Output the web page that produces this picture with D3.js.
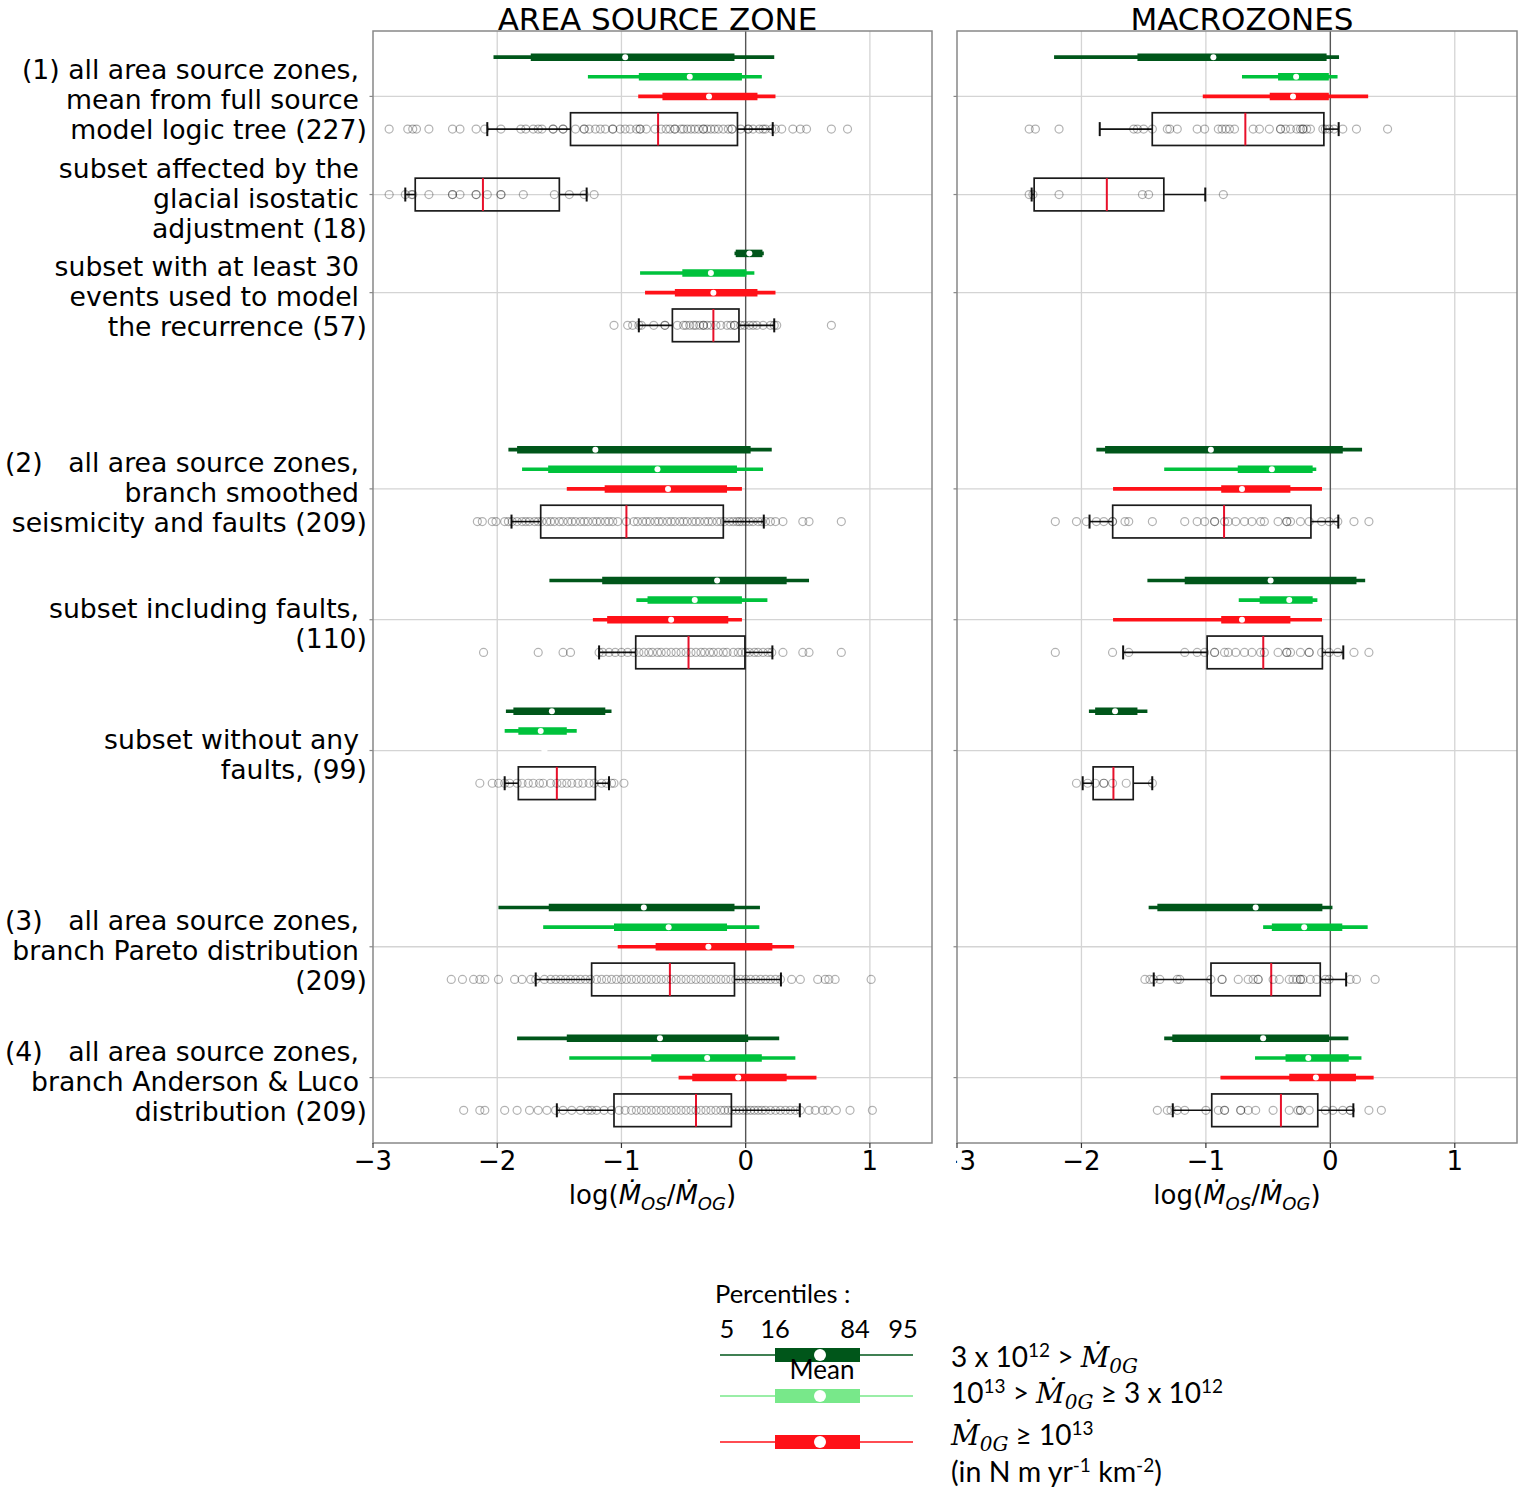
<!DOCTYPE html>
<html><head><meta charset="utf-8">
<script src="https://cdn.jsdelivr.net/npm/d3@7"></script>
<style>body{margin:0;background:#fff}svg{display:block}text{white-space:pre}</style>
</head><body><svg id="c" width="1519" height="1491"></svg>
<script>
// ---------------- DATA ----------------
const groupLabels = [
  ["(1) all area source zones,", "mean from full source", "model logic tree (227)"],
  ["subset affected by the", "glacial isostatic", "adjustment (18)"],
  ["subset with at least 30", "events used to model", "the recurrence (57)"],
  ["(2)   all area source zones,", "branch smoothed", "seismicity and faults (209)"],
  ["subset including faults,", "(110)"],
  ["subset without any", "faults, (99)"],
  ["(3)   all area source zones,", "branch Pareto distribution", "(209)"],
  ["(4)   all area source zones,", "branch Anderson & Luco", "distribution (209)"]
];
const panelTitles = ["AREA SOURCE ZONE", "MACROZONES"];
const xTicks = [-3, -2, -1, 0, 1];
const xTickLabels = ["\u22123", "\u22122", "\u22121", "0", "1"];

// percentile bars: [p5, p16, mean, p84, p95]
const aszDark = [
  [-2.03, -1.73, -0.97, -0.09, 0.23], null,
  [-0.09, -0.08, 0.03, 0.135, 0.146],
  [-1.91, -1.84, -1.21, 0.04, 0.21],
  [-1.58, -1.155, -0.23, 0.33, 0.51],
  [-1.93, -1.87, -1.56, -1.13, -1.08],
  [-1.99, -1.585, -0.82, -0.09, 0.115],
  [-1.84, -1.44, -0.69, 0.02, 0.27]
];
const aszLight = [
  [-1.27, -0.86, -0.45, -0.03, 0.13], null,
  [-0.85, -0.51, -0.28, 0.006, 0.07],
  [-1.80, -1.59, -0.71, -0.07, 0.14],
  [-0.88, -0.79, -0.41, -0.03, 0.175],
  [-1.94, -1.83, -1.65, -1.44, -1.36],
  [-1.63, -1.06, -0.62, -0.15, 0.11],
  [-1.42, -0.76, -0.31, 0.13, 0.40]
];
const aszRed = [
  [-0.865, -0.67, -0.295, 0.095, 0.24], null,
  [-0.81, -0.57, -0.26, 0.095, 0.24],
  [-1.44, -1.135, -0.625, -0.15, -0.03],
  [-1.23, -1.115, -0.60, -0.14, -0.03],
  [null, null, -1.62, null, null],
  [-1.03, -0.725, -0.30, 0.215, 0.39],
  [-0.54, -0.43, -0.06, 0.33, 0.57]
];
// box: [whisker low, q1, median, q3, whisker high]
const aszBox = [
  [-2.08, -1.41, -0.705, -0.066, 0.218],
  [-2.74, -2.66, -2.115, -1.50, -1.28],
  [-0.86, -0.59, -0.26, -0.054, 0.23],
  [-1.885, -1.65, -0.96, -0.18, 0.146],
  [-1.18, -0.885, -0.46, -0.006, 0.215],
  [-1.94, -1.83, -1.52, -1.21, -1.10],
  [-1.69, -1.24, -0.61, -0.09, 0.284],
  [-1.52, -1.06, -0.40, -0.115, 0.436]
];
const aszPts = [
  [-2.87,-2.72,-2.68,-2.65,-2.55,-2.36,-2.3,-2.17,-2.1,-1.97,-1.81,-1.77,-1.71,-1.67,-1.64,-1.55,-1.55,-1.47,-1.47,-1.37,-1.3,-1.3,-1.26,-1.21,-1.17,-1.13,-1.07,-1.07,-1.01,-0.97,-0.93,-0.88,-0.85,-0.85,-0.8,-0.73,-0.68,-0.64,-0.61,-0.57,-0.57,-0.52,-0.5,-0.47,-0.44,-0.41,-0.38,-0.34,-0.34,-0.31,-0.28,-0.25,-0.22,-0.18,-0.14,-0.11,-0.11,-0.04,0.02,0.02,0.06,0.11,0.14,0.16,0.21,0.24,0.29,0.38,0.44,0.49,0.69,0.82],
  [-2.87,-2.74,-2.69,-2.68,-2.55,-2.36,-2.36,-2.30,-2.17,-2.17,-2.08,-1.97,-1.97,-1.79,-1.54,-1.42,-1.30,-1.22],
  [-1.06,-0.95,-0.91,-0.86,-0.84,-0.74,-0.65,-0.65,-0.55,-0.5,-0.48,-0.45,-0.42,-0.40,-0.37,-0.34,-0.34,-0.31,-0.28,-0.24,-0.2,-0.15,-0.12,-0.09,-0.09,-0.04,-0.01,0.03,0.06,0.09,0.14,0.2,0.23,0.25,0.69],
  [-2.16,-2.12,-2.04,-2.01,-1.94,-1.91,-1.88,-1.84,-1.8,-1.77,-1.74,-1.7,-1.67,-1.64,-1.6,-1.57,-1.54,-1.5,-1.47,-1.43,-1.4,-1.37,-1.33,-1.3,-1.27,-1.23,-1.2,-1.17,-1.13,-1.1,-1.07,-1.03,-0.96,-0.9,-0.87,-0.83,-0.8,-0.77,-0.73,-0.7,-0.67,-0.63,-0.6,-0.57,-0.53,-0.5,-0.47,-0.43,-0.4,-0.37,-0.33,-0.3,-0.27,-0.23,-0.2,-0.17,-0.13,-0.1,-0.07,-0.05,-0.03,0.0,0.03,0.06,0.1,0.13,0.16,0.2,0.24,0.3,0.46,0.51,0.77],
  [-2.11,-1.67,-1.47,-1.41,-1.18,-1.15,-1.1,-1.05,-1.0,-0.95,-0.9,-0.86,-0.82,-0.78,-0.75,-0.71,-0.68,-0.64,-0.6,-0.56,-0.52,-0.48,-0.44,-0.4,-0.36,-0.33,-0.29,-0.26,-0.22,-0.18,-0.15,-0.1,-0.06,-0.03,0.0,0.03,0.07,0.1,0.14,0.18,0.21,0.3,0.46,0.51,0.77],
  [-2.14,-2.04,-1.99,-1.94,-1.9,-1.84,-1.8,-1.75,-1.71,-1.66,-1.63,-1.57,-1.52,-1.48,-1.44,-1.4,-1.35,-1.31,-1.26,-1.22,-1.16,-1.12,-1.08,-1.06,-0.98],
  [-2.37,-2.28,-2.19,-2.14,-2.1,-1.99,-1.86,-1.8,-1.73,-1.69,-1.62,-1.57,-1.53,-1.49,-1.45,-1.41,-1.37,-1.33,-1.29,-1.25,-1.2,-1.16,-1.12,-1.08,-1.04,-1.0,-0.96,-0.92,-0.88,-0.84,-0.8,-0.76,-0.72,-0.68,-0.64,-0.6,-0.56,-0.52,-0.48,-0.44,-0.4,-0.36,-0.32,-0.28,-0.24,-0.2,-0.16,-0.12,-0.08,-0.04,0.0,0.04,0.08,0.12,0.16,0.2,0.24,0.28,0.37,0.44,0.58,0.64,0.67,0.72,1.01],
  [-2.27,-2.14,-2.1,-1.94,-1.84,-1.74,-1.67,-1.6,-1.53,-1.47,-1.4,-1.33,-1.27,-1.24,-1.2,-1.14,-1.08,-1.02,-0.97,-0.92,-0.88,-0.84,-0.8,-0.76,-0.72,-0.68,-0.64,-0.6,-0.56,-0.52,-0.48,-0.44,-0.4,-0.36,-0.32,-0.28,-0.24,-0.2,-0.17,-0.14,-0.11,-0.08,-0.05,-0.02,0.01,0.04,0.07,0.1,0.13,0.16,0.2,0.24,0.28,0.32,0.36,0.4,0.44,0.51,0.56,0.62,0.66,0.73,0.84,1.02]
];

const mzDark = [
  [-2.22, -1.55, -0.94, -0.03, 0.07], null, null,
  [-1.88, -1.81, -0.96, 0.10, 0.255],
  [-1.47, -1.17, -0.48, 0.21, 0.28],
  [-1.94, -1.89, -1.73, -1.55, -1.47],
  [-1.46, -1.39, -0.60, -0.064, 0.017],
  [-1.335, -1.27, -0.54, -0.01, 0.145]
];
const mzLight = [
  [-0.71, -0.42, -0.275, -0.012, 0.058], null, null,
  [-1.335, -0.744, -0.47, -0.142, -0.113],
  [-0.736, -0.568, -0.33, -0.142, -0.104],
  null,
  [-0.54, -0.47, -0.21, 0.096, 0.30],
  [-0.605, -0.36, -0.177, 0.148, 0.25]
];
const mzRed = [
  [-1.025, -0.487, -0.30, -0.012, 0.304], null, null,
  [-1.746, -0.877, -0.71, -0.321, -0.067],
  [-1.746, -0.877, -0.71, -0.321, -0.067],
  null, null,
  [-0.883, -0.33, -0.116, 0.206, 0.348]
];
const mzBox = [
  [-1.853, -1.431, -0.683, -0.052, 0.067],
  [-2.40, -2.38, -1.796, -1.338, -1.005],
  null,
  [-1.935, -1.749, -0.854, -0.156, 0.064],
  [-1.665, -0.99, -0.539, -0.064, 0.104],
  [-1.99, -1.906, -1.743, -1.584, -1.431],
  [-1.419, -0.959, -0.475, -0.081, 0.127],
  [-1.266, -0.953, -0.397, -0.101, 0.185]
];
const mzPts = [
  [-2.42,-2.37,-2.18,-1.58,-1.55,-1.5,-1.43,-1.31,-1.29,-1.23,-1.07,-1.01,-0.9,-0.87,-0.84,-0.81,-0.77,-0.62,-0.57,-0.49,-0.4,-0.4,-0.36,-0.32,-0.27,-0.24,-0.22,-0.22,-0.19,-0.16,-0.06,-0.04,-0.01,0.03,0.1,0.21,0.46],
  [-2.42,-2.39,-2.18,-1.51,-1.46,-0.86],
  [],
  [-2.21,-2.04,-1.96,-1.88,-1.82,-1.75,-1.75,-1.65,-1.62,-1.43,-1.17,-1.07,-1.01,-0.93,-0.93,-0.85,-0.82,-0.76,-0.69,-0.63,-0.56,-0.53,-0.42,-0.35,-0.35,-0.32,-0.24,-0.17,-0.07,-0.01,0.06,0.19,0.31],
  [-2.21,-1.75,-1.62,-1.17,-1.07,-1.01,-0.93,-0.93,-0.85,-0.82,-0.76,-0.69,-0.63,-0.56,-0.53,-0.42,-0.35,-0.35,-0.32,-0.24,-0.17,-0.17,-0.07,-0.01,0.06,0.19,0.31],
  [-2.04,-1.95,-1.89,-1.82,-1.82,-1.75,-1.64,-1.43],
  [-1.49,-1.45,-1.42,-1.37,-1.23,-1.21,-0.96,-0.87,-0.87,-0.74,-0.66,-0.62,-0.58,-0.58,-0.46,-0.41,-0.33,-0.30,-0.27,-0.24,-0.24,-0.22,-0.16,-0.11,-0.04,-0.01,0.16,0.21,0.36],
  [-1.39,-1.31,-1.28,-1.23,-1.17,-1.0,-0.9,-0.85,-0.85,-0.72,-0.72,-0.66,-0.6,-0.46,-0.33,-0.26,-0.24,-0.24,-0.17,-0.04,0.02,0.1,0.16,0.16,0.31,0.41]
];

const legendPercentiles = ["5", "16", "84", "95"];
const legendColors = ["#00561a", "#78e88a", "#ff1118"];

// ---------------- LAYOUT ----------------
const svg = d3.select("#c");
const TOP = 31, BOT = 1143;
const tickUnits = [2, 5, 8, 14, 18, 22, 28, 32];
const boxOffset = [1, 0, 1, 1, 1, 1, 1, 1];
const seriesOffset = [-1.2, -0.6, 0];
const y = d3.scaleLinear().domain([0, 34]).range([TOP, BOT]);
const unitPx = y(1) - y(0);
const colors = ["#00561a", "#00c23c", "#ff1118"];

const panels = [
  {x0: 373, x1: 932, dark: aszDark, light: aszLight, red: aszRed, box: aszBox, pts: aszPts},
  {x0: 957, x1: 1517, dark: mzDark, light: mzLight, red: mzRed, box: mzBox, pts: mzPts}
];

svg.append("defs").append("clipPath").attr("id", "clipR")
  .append("rect").attr("x", 956).attr("y", 0).attr("width", 600).attr("height", 1491);

panels.forEach((p, pi) => {
  const x = d3.scaleLinear().domain([-3, 1.5]).range([p.x0, p.x1]);
  const g = svg.append("g");
  // grid
  g.selectAll(".vg").data(xTicks.filter(t => t !== 0 && t !== -3)).join("line")
    .attr("x1", d => x(d)).attr("x2", d => x(d)).attr("y1", TOP).attr("y2", BOT)
    .attr("stroke", "#d4d4d4").attr("stroke-width", 1.3);
  g.selectAll(".hg").data(tickUnits).join("line")
    .attr("x1", p.x0).attr("x2", p.x1).attr("y1", d => y(d)).attr("y2", d => y(d))
    .attr("stroke", "#d4d4d4").attr("stroke-width", 1.3);
  g.append("line").attr("x1", x(0)).attr("x2", x(0)).attr("y1", TOP).attr("y2", BOT)
    .attr("stroke", "#555").attr("stroke-width", 1.4);

  // boxes + points
  p.box.forEach((b, i) => {
    if (!b) return;
    const cy = y(tickUnits[i] + boxOffset[i]);
    const hh = unitPx / 2;
    g.append("line").attr("x1", x(b[0])).attr("x2", x(b[1])).attr("y1", cy).attr("y2", cy)
      .attr("stroke", "#111").attr("stroke-width", 1.6);
    g.append("line").attr("x1", x(b[3])).attr("x2", x(b[4])).attr("y1", cy).attr("y2", cy)
      .attr("stroke", "#111").attr("stroke-width", 1.6);
    [b[0], b[4]].forEach(v => g.append("line").attr("x1", x(v)).attr("x2", x(v))
      .attr("y1", cy - 7).attr("y2", cy + 7).attr("stroke", "#111").attr("stroke-width", 2));
    g.append("rect").attr("x", x(b[1])).attr("y", cy - hh).attr("width", x(b[3]) - x(b[1]))
      .attr("height", hh * 2).attr("fill", "none").attr("stroke", "#1a1a1a").attr("stroke-width", 1.7);
    g.append("line").attr("x1", x(b[2])).attr("x2", x(b[2])).attr("y1", cy - hh).attr("y2", cy + hh)
      .attr("stroke", "#e8102a").attr("stroke-width", 2);
    g.selectAll(null).data(p.pts[i]).join("circle")
      .attr("cx", d => x(d)).attr("cy", cy).attr("r", 4)
      .attr("fill", "none").attr("stroke", "#000").attr("stroke-opacity", 0.3).attr("stroke-width", 1.2);
  });

  // percentile bars
  [p.dark, p.light, p.red].forEach((ser, si) => {
    ser.forEach((d, i) => {
      if (!d) return;
      const cy = y(tickUnits[i] + seriesOffset[si]);
      if (d[0] != null) g.append("line").attr("x1", x(d[0])).attr("x2", x(d[4])).attr("y1", cy).attr("y2", cy)
        .attr("stroke", colors[si]).attr("stroke-width", 3.6);
      if (d[1] != null) g.append("line").attr("x1", x(d[1])).attr("x2", x(d[3])).attr("y1", cy).attr("y2", cy)
        .attr("stroke", colors[si]).attr("stroke-width", 7.5);
      g.append("circle").attr("cx", x(d[2])).attr("cy", cy).attr("r", 3).attr("fill", "#fff");
    });
  });

  // frame
  g.append("rect").attr("x", p.x0).attr("y", TOP).attr("width", p.x1 - p.x0).attr("height", BOT - TOP)
    .attr("fill", "none").attr("stroke", "#888").attr("stroke-width", 1.5);
  // y ticks
  g.selectAll(".yt").data(tickUnits).join("line")
    .attr("x1", p.x0 - 3.5).attr("x2", p.x0).attr("y1", d => y(d)).attr("y2", d => y(d))
    .attr("stroke", "#888").attr("stroke-width", 1.2);
  // x axis
  const ax = g.append("g");
  if (pi === 1) ax.attr("clip-path", "url(#clipR)");
  ax.selectAll("line").data(xTicks).join("line")
    .attr("x1", d => x(d)).attr("x2", d => x(d)).attr("y1", BOT).attr("y2", BOT + 5)
    .attr("stroke", "#333").attr("stroke-width", 1.2);
  ax.selectAll("text").data(xTicks).join("text")
    .attr("x", d => x(d)).attr("y", BOT + 27).attr("text-anchor", "middle")
    .attr("font-family", "DejaVu Sans").attr("font-size", 26).attr("fill", "#000")
    .text((d, i) => xTickLabels[i]);
  // x label
  const cx = (p.x0 + p.x1) / 2;
  const xl = g.append("text").attr("x", cx).attr("y", 1204).attr("text-anchor", "middle")
    .attr("font-family", "DejaVu Sans").attr("font-size", 26).attr("fill", "#000");
  xl.append("tspan").text("log(");
  xl.append("tspan").attr("font-style", "italic").text("\u1E40");
  xl.append("tspan").attr("font-style", "italic").attr("font-size", 18).attr("dy", 6).text("OS");
  xl.append("tspan").attr("dy", -6).text("/");
  xl.append("tspan").attr("font-style", "italic").text("\u1E40");
  xl.append("tspan").attr("font-style", "italic").attr("font-size", 18).attr("dy", 6).text("OG");
  xl.append("tspan").attr("dy", -6).text(")");
  // title
  svg.append("text").attr("x", cx + 5).attr("y", 29.5).attr("text-anchor", "middle")
    .attr("font-family", "DejaVu Sans").attr("font-size", 31).attr("fill", "#000")
    .text(panelTitles[pi]);
});

// y labels
groupLabels.forEach((lines, i) => {
  const base = y(tickUnits[i]) + 3 + 10;
  const n = lines.length;
  lines.forEach((t, j) => {
    svg.append("text")
      .attr("x", j === n - 1 ? 367 : 359)
      .attr("y", base + (j - (n - 1) / 2) * 30)
      .attr("text-anchor", "end").attr("font-family", "DejaVu Sans").attr("font-size", 26.7)
      .attr("fill", "#000").text(t);
  });
});

// ---------------- LEGEND ----------------
const lf = "Lato, 'Open Sans', sans-serif";
const leg = svg.append("g");
leg.append("text").attr("x", 715).attr("y", 1303).attr("font-family", lf).attr("font-size", 25.5).text("Percentiles :");
const pctX = [727, 775, 855, 903];
leg.selectAll(".pl").data(legendPercentiles).join("text")
  .attr("x", (d, i) => pctX[i]).attr("y", 1338).attr("text-anchor", "middle")
  .attr("font-family", lf).attr("font-size", 25.5).text(d => d);
const rowY = [1355, 1396, 1442];
legendColors.forEach((c, i) => {
  leg.append("line").attr("x1", 720).attr("x2", 913).attr("y1", rowY[i]).attr("y2", rowY[i])
    .attr("stroke", c).attr("stroke-width", 1.5);
  leg.append("rect").attr("x", 775).attr("y", rowY[i] - 7).attr("width", 85).attr("height", 14).attr("fill", c);
  leg.append("circle").attr("cx", 820).attr("cy", rowY[i]).attr("r", 6).attr("fill", "#fff");
});
leg.append("text").attr("x", 822).attr("y", 1379).attr("text-anchor", "middle")
  .attr("font-family", lf).attr("font-size", 26).text("Mean");

function mdot(t) {
  t.append("tspan").attr("font-family", "'DejaVu Serif', serif").attr("font-style", "italic").text("\u1E40");
  t.append("tspan").attr("font-family", "'DejaVu Serif', serif").attr("font-style", "italic")
    .attr("font-size", 20).attr("dy", 6).text("0G");
}
function sup(t, s) {
  t.append("tspan").attr("font-size", 19).attr("dy", -10).text(s);
}
const tx = 951;
let t1 = leg.append("text").attr("x", tx).attr("y", 1367).attr("font-family", lf).attr("font-size", 28);
t1.append("tspan").text("3 x 10"); sup(t1, "12"); t1.append("tspan").attr("dy", 10).text(" > "); mdot(t1);
let t2 = leg.append("text").attr("x", tx).attr("y", 1403).attr("font-family", lf).attr("font-size", 28);
t2.append("tspan").text("10"); sup(t2, "13"); t2.append("tspan").attr("dy", 10).text(" > "); mdot(t2);
t2.append("tspan").attr("dy", -6).text(" \u2265 3 x 10"); sup(t2, "12");
let t3 = leg.append("text").attr("x", tx).attr("y", 1445).attr("font-family", lf).attr("font-size", 28);
mdot(t3); t3.append("tspan").attr("dy", -6).text(" \u2265 10"); sup(t3, "13");
let t4 = leg.append("text").attr("x", tx).attr("y", 1482).attr("font-family", lf).attr("font-size", 28.5);
t4.append("tspan").text("(in N m yr"); sup(t4, "-1"); t4.append("tspan").attr("dy", 10).text(" km"); sup(t4, "-2");
t4.append("tspan").attr("dy", 10).text(")");
</script></body></html>
